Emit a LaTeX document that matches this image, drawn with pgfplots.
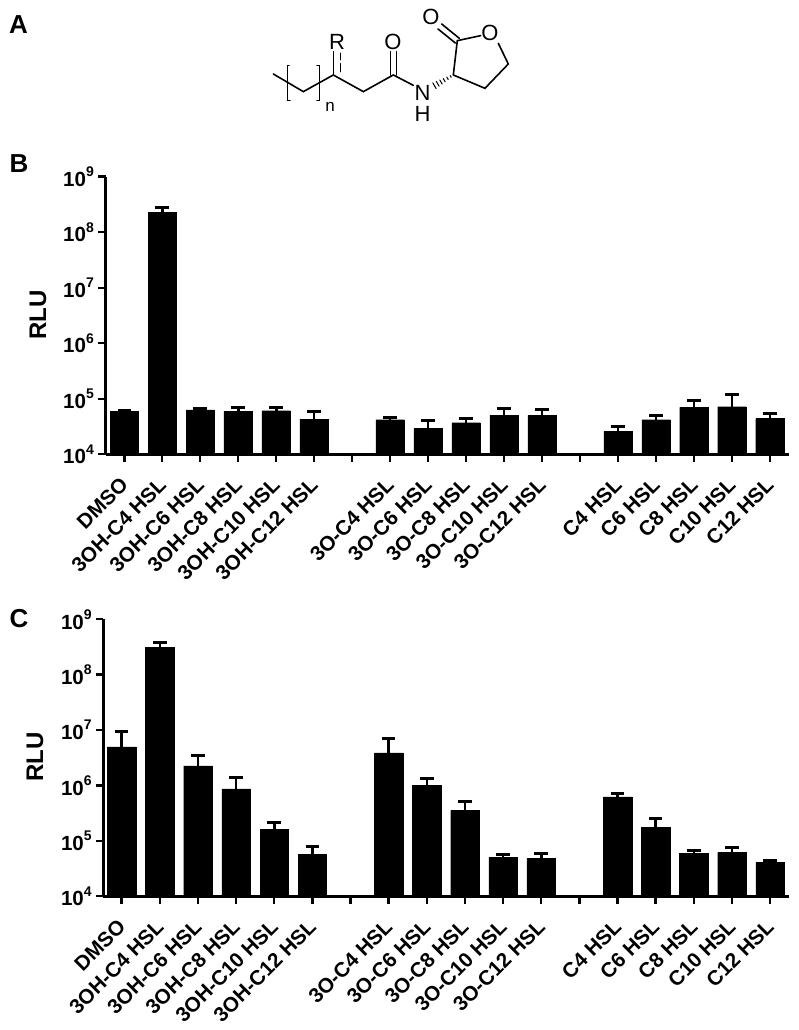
\documentclass[border=0pt]{standalone}
\usepackage{pgfplots}
\pgfplotsset{compat=1.18}
\usepackage{pgfplotstable}
\usepackage{fontspec}
\setmainfont{Liberation Sans}
\pgfplotstableread{
x y e
0 5.9e4 0.2e4
1 2.3e8 0.5e8
2 6.3e4 0.4e4
3 5.9e4 1.2e4
4 6.1e4 0.8e4
5 4.3e4 1.5e4
7 4.2e4 0.4e4
8 2.9e4 1.2e4
9 3.7e4 0.7e4
10 5.0e4 1.8e4
11 5.0e4 1.5e4
13 2.6e4 0.6e4
14 4.2e4 0.9e4
15 7.0e4 2.4e4
16 7.2e4 4.7e4
17 4.4e4 1.0e4
}\tableB
\pgfplotstableread{
x y e
0 5.0e6 4.5e6
1 3.08e8 0.72e8
2 2.25e6 1.25e6
3 8.7e5 5.3e5
4 1.62e5 0.52e5
5 5.65e4 2.15e4
7 3.87e6 3.23e6
8 9.95e5 3.35e5
9 3.57e5 1.63e5
10 5.1e4 0.5e4
11 4.8e4 1.2e4
13 6.2e5 1.0e5
14 1.76e5 0.74e5
15 5.9e4 0.8e4
16 6.2e4 1.4e4
17 4.1e4 0.4e4
}\tableC
\newcommand{\pw}[1]{\fontsize{20.5}{20.5}\selectfont\bfseries 10\raisebox{0.48em}{\fontsize{14}{14}\selectfont #1}}
\newcommand{\xl}[1]{\fontsize{20.7}{20.7}\selectfont\bfseries #1}
\pgfplotsset{myaxis/.style={
  scale only axis, ymin=1e4, ymax=1e9,
  axis x line*=bottom, axis y line*=left,
  x axis line style={line width=2.8pt,-},
  y axis line style={line width=2.8pt,-},
  tick style={line width=2.4pt,black},
  major tick length=7.5pt, tick align=outside, minor tick length=0pt,
  xtick={0,1,2,3,4,5,6,7,8,9,10,11,12,13,14,15,16,17},
  xticklabels={\xl{DMSO},\xl{3OH-C4 HSL},\xl{3OH-C6 HSL},\xl{3OH-C8 HSL},\xl{3OH-C10 HSL},\xl{3OH-C12 HSL},{},\xl{3O-C4 HSL},\xl{3O-C6 HSL},\xl{3O-C8 HSL},\xl{3O-C10 HSL},\xl{3O-C12 HSL},{},\xl{C4 HSL},\xl{C6 HSL},\xl{C8 HSL},\xl{C10 HSL},\xl{C12 HSL}},
  xticklabel style={rotate=45,anchor=north east,inner sep=0pt,yshift=-6.2pt,xshift=-13.6pt},
  ytick={1e4,1e5,1e6,1e7,1e8,1e9},
  yticklabels={\pw{4},\pw{5},\pw{6},\pw{7},\pw{8},\pw{9}},
  yticklabel style={inner sep=0pt,xshift=-4pt},
  ybar, bar width=28.5pt,
}}
\begin{document}
\begin{tikzpicture}
\useasboundingbox (0pt,0pt) rectangle (799pt,1030pt);
\begin{semilogyaxis}[myaxis, at={(105.5pt,575.7pt)}, anchor=south west, width=683.8pt, height=277.6pt, xmin=-0.495, xmax=17.51]
\addplot+[draw=black,fill=black,line width=0.3pt,error bars/y dir=plus,error bars/y explicit,error bars/error bar style={line width=2.6pt,black},error bars/error mark options={rotate=90,mark size=6.8pt,line width=3pt,black}] table[x=x,y=y,y error=e] {\tableB};
\end{semilogyaxis}
\begin{semilogyaxis}[myaxis, at={(103.3pt,133.7pt)}, anchor=south west, width=686pt, height=277pt, xmin=-0.482, xmax=17.504]
\addplot+[draw=black,fill=black,line width=0.3pt,error bars/y dir=plus,error bars/y explicit,error bars/error bar style={line width=2.6pt,black},error bars/error mark options={rotate=90,mark size=6.8pt,line width=3pt,black}] table[x=x,y=y,y error=e] {\tableC};
\end{semilogyaxis}
% labels
\node[font=\fontsize{26}{26}\selectfont\bfseries] at (18.5pt,1005pt) {A};
\node[font=\fontsize{26}{26}\selectfont\bfseries] at (19pt,866pt) {B};
\node[font=\fontsize{26}{26}\selectfont\bfseries] at (19pt,411pt) {C};
\node[rotate=90,font=\fontsize{24}{24}\selectfont\bfseries] at (38pt,715pt) {RLU};
\node[rotate=90,font=\fontsize{24}{24}\selectfont\bfseries] at (35pt,273pt) {RLU};
% molecule
\begin{scope}[shift={(240pt,1030pt)},x=0.3333pt,y=-0.3333pt,line width=1.6pt,black,line cap=round]
\draw (100,222)--(190,275)--(280,225)--(370,275)--(460,225)--(520,256);
\draw (280,225)--(280,155);
\draw[dash pattern=on 8pt off 4pt] (302,215)--(302,160);
\draw (452,225)--(452,155);
\draw (470,225)--(470,155);
\draw (147,197)--(143,197)--(143,302)--(150,302);
\draw (231,197)--(238,197)--(238,302)--(231,302);
\draw (640,225)--(652,122)--(722,107);
\draw (775,130)--(805,192)--(735,265)--(640,225);
\draw (658,115)--(605,72);
\draw (646,129)--(594,87);
\foreach \t in {0.12,0.27,0.42,0.57,0.72,0.87}{
  \pgfmathsetmacro{\px}{640-65*\t}
  \pgfmathsetmacro{\py}{225+37*\t}
  \pgfmathsetmacro{\hl}{2+\t*9}
  \draw[line width=1pt] ({\px-\hl*0.5},{\py-\hl*0.87})--({\px+\hl*0.5},{\py+\hl*0.87});
}
\node[font=\fontsize{22}{22}\selectfont] at (291,125) {R};
\node[font=\fontsize{22}{22}\selectfont] at (459,125) {O};
\node[font=\fontsize{22}{22}\selectfont] at (750,100) {O};
\node[font=\fontsize{22}{22}\selectfont] at (573,52) {O};
\node[font=\fontsize{22}{22}\selectfont] at (548,278) {N};
\node[font=\fontsize{22}{22}\selectfont] at (548,343) {H};
\node[font=\fontsize{17}{17}\selectfont] at (270,320) {n};
\end{scope}
\end{tikzpicture}
\end{document}
